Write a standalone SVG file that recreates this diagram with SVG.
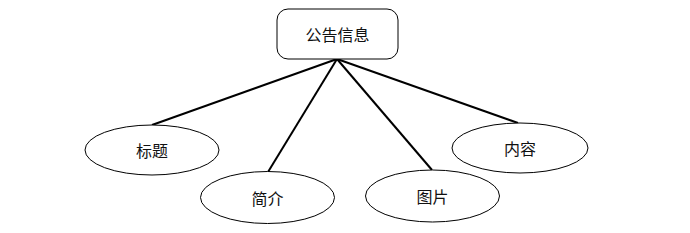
<svg xmlns="http://www.w3.org/2000/svg" width="690" height="233" viewBox="0 0 690 233">
<style>
.n{fill:#fff;stroke:#000;stroke-width:1}
.t{font-family:"Noto Sans CJK SC","Liberation Sans",sans-serif;font-size:16px;fill:#111;text-anchor:middle;dominant-baseline:central}
.c line{stroke:#000;stroke-width:2}
</style>
<rect width="690" height="233" fill="#fff"/>
<g class="c" id="connectors">
<line x1="337" y1="59" x2="152" y2="125"/>
<line x1="337" y1="59" x2="268" y2="172"/>
<line x1="337" y1="59" x2="432" y2="170"/>
<line x1="337" y1="59" x2="518" y2="123"/>
</g>
<g id="n-root"><rect class="n" x="277" y="9" width="121" height="50" rx="11"/><text class="t" x="337.5" y="34">公告信息</text></g>
<g id="n-title"><ellipse class="n" cx="152" cy="150" rx="67" ry="25"/><text class="t" x="152" y="150">标题</text></g>
<g id="n-intro"><ellipse class="n" cx="267.5" cy="197.5" rx="67" ry="26"/><text class="t" x="267.5" y="197.5">简介</text></g>
<g id="n-pic"><ellipse class="n" cx="432.5" cy="196" rx="67" ry="26"/><text class="t" x="432.5" y="196">图片</text></g>
<g id="n-content"><ellipse class="n" cx="520" cy="148" rx="68" ry="25"/><text class="t" x="520" y="148">内容</text></g>
</svg>
